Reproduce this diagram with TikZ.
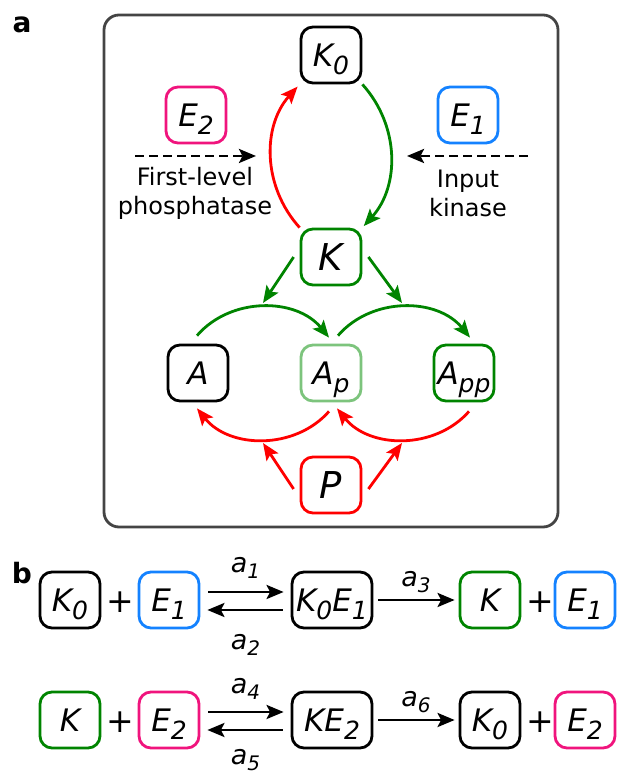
\documentclass[tikz,border=0pt]{standalone}
\usepackage{fontspec}
\setmainfont{DejaVu Sans}
\usetikzlibrary{arrows.meta}
\definecolor{kgreen}{RGB}{0,132,0}
\definecolor{lgreen}{RGB}{125,196,125}
\definecolor{eblue}{RGB}{20,130,255}
\definecolor{epink}{RGB}{240,20,125}
\definecolor{pred}{RGB}{255,0,0}
\definecolor{framegray}{RGB}{68,68,68}
\newcommand{\sbs}[1]{\raisebox{-8pt}[0pt][0pt]{\fontsize{25}{25}\selectfont #1}}
\newcommand{\rate}[1]{a\raisebox{-6pt}[0pt][0pt]{\fontsize{20}{20}\selectfont #1}}
\tikzstyle{species} = [draw, rounded corners=12pt, line width=2.8pt, minimum width=60pt, minimum height=56pt, inner sep=2pt, font=\fontsize{31}{31}\selectfont\itshape]
\tikzstyle{big} = [font=\fontsize{37}{37}\selectfont\itshape]
\tikzstyle{plus} = [inner sep=0pt, font=\fontsize{33}{33}\selectfont]
\tikzstyle{note} = [align=center, inner sep=0pt, font=\fontsize{24}{29}\selectfont]
\tikzstyle{panel} = [inner sep=0pt, font=\fontsize{28}{28}\selectfont\bfseries]
\tikzstyle{ratelbl} = [inner sep=0pt, font=\fontsize{27}{27}\selectfont\itshape]
\tikzstyle{flow} = [line width=2.8pt, -{Stealth[length=17pt,width=14pt,inset=3.5pt]}]
\tikzstyle{rxn} = [flow, black, shorten <=8pt, shorten >=7pt]

\begin{document}
\begin{tikzpicture}[x=1pt, y=1pt]
	\useasboundingbox (0,0) rectangle (616,775);
	\draw[framegray, line width=2.8pt, rounded corners=15pt] (104,248) rectangle (558,760);
	\node[panel] (la) at (22,750) {a};
	\node[panel] (lb) at (22,202) {b};

	\node[species] (K0) at (331,720) {K\sbs{0}};
	\node[species, epink] (E2) at (196,660) {\textcolor{black}{E\sbs{2}}};
	\node[species, eblue] (E1) at (468,660) {\textcolor{black}{E\sbs{1}}};
	\node[species, kgreen, big] (K) at (331,518) {\textcolor{black}{K}};
	\node[species] (A) at (198,402) {A};
	\node[species, lgreen] (Ap) at (331,402) {\textcolor{black}{A\sbs{p}}};
	\node[species, kgreen] (App) at (464,402) {\textcolor{black}{A\sbs{pp}}};
	\node[species, pred, big] (P) at (331,290) {\textcolor{black}{P}};

	\node[note] (phos) at (195,582) {First-level\\phosphatase};
	\node[note] (kin) at (468,582) {Input\\kinase};
	\coordinate (dl0) at (135,619);
	\coordinate (dl1) at (256,619);
	\coordinate (dr0) at (528,619);
	\coordinate (dr1) at (407,619);
	\draw[flow, black, dash pattern=on 9pt off 5pt] (dl0) -- (dl1);
	\draw[flow, black, dash pattern=on 9pt off 5pt] (dr0) -- (dr1);

	\draw[flow, pred, shorten >=3pt] (K.north west) to[bend left=42] (K0.south west);
	\draw[flow, kgreen, shorten >=2pt] (K0.south east) to[bend left=42] (K.north east);

	\coordinate (kA) at (263,472);
	\coordinate (kB) at (402,472);
	\draw[flow, kgreen] ([xshift=-6pt]K.west) -- (kA);
	\draw[flow, kgreen] ([xshift=6pt]K.east) -- (kB);
	\draw[flow, kgreen] ([xshift=-1pt,yshift=8pt]A.north) to[bend left=50] ([xshift=-2pt,yshift=6pt]Ap.north);
	\draw[flow, kgreen] ([xshift=7pt,yshift=8pt]Ap.north) to[bend left=50] ([xshift=6pt,yshift=6pt]App.north);

	\draw[flow, pred] ([xshift=-2pt,yshift=-9pt]Ap.south) to[bend left=50] ([xshift=-1pt,yshift=-6pt]A.south);
	\draw[flow, pred] ([xshift=5pt,yshift=-9pt]App.south) to[bend left=50] ([xshift=6pt,yshift=-6pt]Ap.south);
	\coordinate (pA) at (263,332);
	\coordinate (pB) at (402,332);
	\draw[flow, pred] ([xshift=-6pt,yshift=-4pt]P.west) -- (pA);
	\draw[flow, pred] ([xshift=6pt,yshift=-4pt]P.east) -- (pB);

	\node[species] (bK0) at (70,175) {K\sbs{0}};
	\node[plus] (pl1) at (120,173) {+};
	\node[species, eblue] (bE1) at (169,175) {\textcolor{black}{E\sbs{1}}};
	\node[species, minimum width=80pt] (bK0E1) at (332,175) {K\sbs{0}E\sbs{1}};
	\node[species, kgreen] (bK) at (490,175) {\textcolor{black}{K}};
	\node[plus] (pl2) at (540,173) {+};
	\node[species, eblue] (bE1b) at (585,175) {\textcolor{black}{E\sbs{1}}};
	\draw[rxn] ([yshift=8pt]bE1.east) -- ([yshift=8pt]bK0E1.west) node[ratelbl, midway, above=18pt] (a1) {\rate{1}};
	\draw[rxn] ([yshift=-10pt]bK0E1.west) -- ([yshift=-10pt]bE1.east) node[ratelbl, midway, below=23pt] (a2) {\rate{2}};
	\draw[rxn, shorten <=5pt, shorten >=4pt] (bK0E1.east) -- (bK.west) node[ratelbl, midway, above=12pt] (a3) {\rate{3}};

	\node[species, kgreen] (cK) at (70,55) {\textcolor{black}{K}};
	\node[plus] (pl3) at (120,53) {+};
	\node[species, epink] (cE2) at (169,55) {\textcolor{black}{E\sbs{2}}};
	\node[species, minimum width=80pt] (cKE2) at (332,55) {KE\sbs{2}};
	\node[species] (cK0) at (490,55) {K\sbs{0}};
	\node[plus] (pl4) at (540,53) {+};
	\node[species, epink] (cE2b) at (585,55) {\textcolor{black}{E\sbs{2}}};
	\draw[rxn] ([yshift=8pt]cE2.east) -- ([yshift=8pt]cKE2.west) node[ratelbl, midway, above=17pt] (a4) {\rate{4}};
	\draw[rxn] ([yshift=-10pt]cKE2.west) -- ([yshift=-10pt]cE2.east) node[ratelbl, midway, below=18pt] (a5) {\rate{5}};
	\draw[rxn, shorten <=5pt, shorten >=4pt] (cKE2.east) -- (cK0.west) node[ratelbl, midway, above=12pt] (a6) {\rate{6}};
\end{tikzpicture}
\end{document}
